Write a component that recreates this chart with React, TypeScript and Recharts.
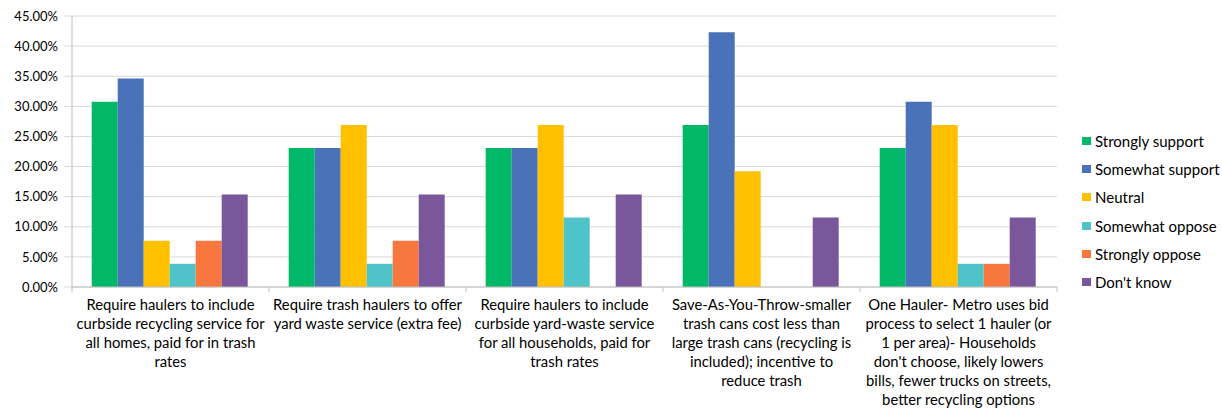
import { BarChart, Bar, XAxis, YAxis, CartesianGrid } from 'recharts'

const categories = [
  ['Require haulers to include', 'curbside recycling service for', 'all homes, paid for in trash', 'rates'],
  ['Require trash haulers to offer', 'yard waste service (extra fee)'],
  ['Require haulers to include', 'curbside yard-waste service', 'for all households, paid for', 'trash rates'],
  ['Save-As-You-Throw-smaller', 'trash cans cost less than', 'large trash cans (recycling is', 'included); incentive to', 'reduce trash'],
  ['One Hauler- Metro uses bid', 'process to select 1 hauler (or', '1 per area)- Households', "don't choose, likely lowers", 'bills, fewer trucks on streets,', 'better recycling options'],
]

const seriesNames = ['Strongly support', 'Somewhat support', 'Neutral', 'Somewhat oppose', 'Strongly oppose', "Don't know"]
const seriesColors = ['#00B868', '#4A72B8', '#FFC000', '#4FC4C8', '#F7773F', '#7A569A']

const stronglySupport = [0.3077, 0.2308, 0.2308, 0.2692, 0.2308]
const somewhatSupport = [0.3462, 0.2308, 0.2308, 0.4231, 0.3077]
const neutral = [0.0769, 0.2692, 0.2692, 0.1923, 0.2692]
const somewhatOppose = [0.0385, 0.0385, 0.1154, 0, 0.0385]
const stronglyOppose = [0.0769, 0.0769, 0, 0, 0.0385]
const dontKnow = [0.1538, 0.1538, 0.1538, 0.1154, 0.1154]

const yTicks = [0, 0.05, 0.1, 0.15, 0.2, 0.25, 0.3, 0.35, 0.4, 0.45]

const allSeries = [stronglySupport, somewhatSupport, neutral, somewhatOppose, stronglyOppose, dontKnow]
const data = categories.map((lines, i) => {
  const row: any = { name: String(i), lines }
  allSeries.forEach((s, j) => { row['s' + j] = s[i] })
  return row
})

const W = 1222
const H = 419
const M = { top: 16, right: 165, bottom: 0, left: 0 }
const Y_AXIS_W = 72
const band = (W - M.left - M.right - Y_AXIS_W) / categories.length
const FONT = 'Lato, "Open Sans", sans-serif'

function CategoryTick(props: any) {
  const { x, y, index } = props
  const lines: string[] = categories[index] || []
  return (
    <g>
      <line x1={x - band / 2} y1={y - 8} x2={x - band / 2} y2={y - 3} stroke="#bfbfbf" />
      {index === categories.length - 1 && (
        <line x1={x + band / 2} y1={y - 8} x2={x + band / 2} y2={y - 3} stroke="#bfbfbf" />
      )}
      <text x={x} y={y + 15} textAnchor="middle" fontSize={14.8} fill="#000" fontFamily={FONT}>
        {lines.map((l, i) => (
          <tspan key={i} x={x} dy={i === 0 ? 0 : 19}>{l}</tspan>
        ))}
      </text>
    </g>
  )
}

export default function App() {
  return (
    <div style={{ position: 'absolute', left: 0, top: 0, width: W, height: H, background: '#fff', fontFamily: FONT }}>
      <BarChart width={W} height={H} data={data} margin={M} barCategoryGap="10%" barGap={0}>
        <CartesianGrid vertical={false} stroke="#d9d9d9" />
        <XAxis
          dataKey="name"
          height={132}
          tickLine={false}
          axisLine={{ stroke: '#bfbfbf' }}
          tick={<CategoryTick />}
          interval={0}
        />
        <YAxis
          width={Y_AXIS_W}
          domain={[0, 0.45]}
          ticks={yTicks}
          tickLine={{ stroke: '#d9d9d9' }}
          tickSize={8}
          tickMargin={6}
          axisLine={{ stroke: '#bfbfbf' }}
          tickFormatter={(v: number) => (v * 100).toFixed(2) + '%'}
          tick={{ fontSize: 13, fill: '#000', fontFamily: FONT }}
        />
        {seriesNames.map((n, j) => (
          <Bar key={n} dataKey={'s' + j} name={n} fill={seriesColors[j]} isAnimationActive={false} />
        ))}
      </BarChart>
      <div style={{ position: 'absolute', left: 1082, top: 127 }}>
        {seriesNames.map((n, j) => (
          <div key={n} style={{ display: 'flex', alignItems: 'center', height: 28.2, fontSize: 15, color: '#000', whiteSpace: 'nowrap' }}>
            <span style={{ display: 'inline-block', width: 9, height: 8, background: seriesColors[j], marginRight: 4 }} />
            {n}
          </div>
        ))}
      </div>
    </div>
  )
}
